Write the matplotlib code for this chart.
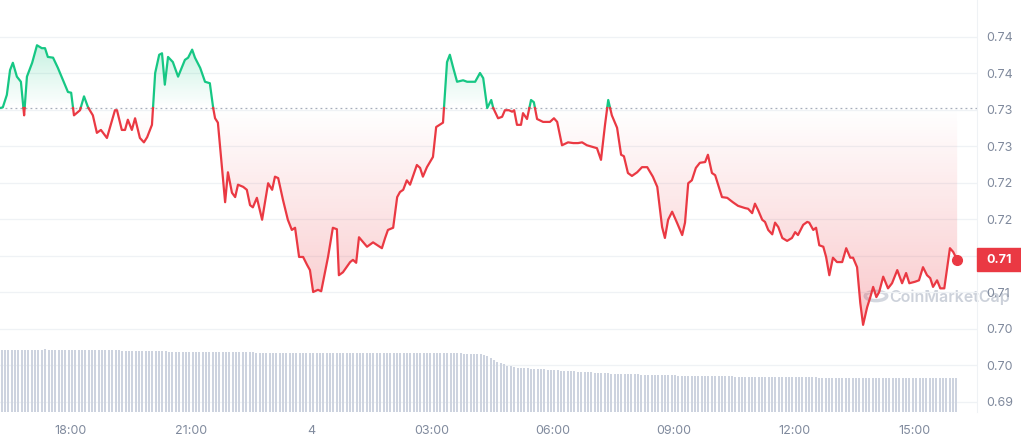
import numpy as np
import matplotlib.pyplot as plt
from matplotlib.patches import Rectangle, Circle
from matplotlib.transforms import blended_transform_factory


# hours elapsed since 16:15 and price (USD)
hours = [0.00, 0.07, 0.17, 0.25, 0.32, 0.42, 0.52, 0.60, 0.67, 0.80, 0.92, 1.04, 1.12, 1.19,
         1.32, 1.44, 1.57, 1.69, 1.77, 1.84, 1.99, 2.09, 2.19, 2.31, 2.41, 2.51, 2.66, 2.86,
         2.91, 3.03, 3.11, 3.18, 3.28, 3.36, 3.48, 3.58, 3.66, 3.78, 3.86, 3.96, 4.03, 4.10,
         4.18, 4.30, 4.43, 4.60, 4.68, 4.78, 4.85, 4.98, 5.10, 5.22, 5.30, 5.35, 5.42, 5.60,
         5.67, 5.77, 5.85, 5.92, 6.05, 6.14, 6.22, 6.29, 6.39, 6.52, 6.67, 6.77, 6.84, 6.92,
         7.04, 7.16, 7.26, 7.34, 7.44, 7.54, 7.64, 7.71, 7.79, 7.91, 7.99, 8.16, 8.28, 8.38,
         8.43, 8.53, 8.71, 8.78, 8.86, 8.93, 9.13, 9.28, 9.50, 9.58, 9.65, 9.78, 9.88, 9.95,
         10.03, 10.12, 10.20, 10.37, 10.45, 10.52, 10.62, 10.77, 10.85, 11.02, 11.12, 11.19,
         11.27, 11.37, 11.52, 11.62, 11.82, 11.94, 12.02, 12.12, 12.22, 12.27, 12.39, 12.49,
         12.56, 12.66, 12.74, 12.79, 12.86, 12.96, 13.01, 13.11, 13.21, 13.28, 13.36, 13.51,
         13.68, 13.78, 13.86, 13.98, 14.13, 14.26, 14.38, 14.48, 14.60, 14.73, 14.85, 14.95,
         15.05, 15.13, 15.22, 15.35, 15.45, 15.52, 15.62, 15.72, 15.85, 15.97, 16.10, 16.24,
         16.35, 16.47, 16.54, 16.62, 16.72, 16.84, 16.97, 17.04, 17.12, 17.21, 17.31, 17.41,
         17.54, 17.61, 17.71, 17.79, 17.96, 18.09, 18.23, 18.36, 18.53, 18.61, 18.71, 18.78,
         18.86, 18.96, 19.03, 19.11, 19.21, 19.28, 19.36, 19.46, 19.58, 19.70, 19.78, 19.85,
         19.98, 20.08, 20.13, 20.23, 20.30, 20.38, 20.48, 20.55, 20.63, 20.72, 20.82, 20.95,
         21.05, 21.15, 21.22, 21.32, 21.40, 21.47, 21.57, 21.65, 21.72, 21.80, 21.87, 21.97,
         22.09, 22.19, 22.32, 22.44, 22.54, 22.62, 22.76, 22.86, 22.96, 23.06, 23.14, 23.21,
         23.31, 23.39, 23.49, 23.63, 23.71, 23.81]

prices = [0.7302, 0.7303, 0.7320, 0.7354, 0.7364, 0.7345, 0.7338, 0.7292, 0.7345, 0.7364,
          0.7388, 0.7384, 0.7384, 0.7372, 0.7371, 0.7357, 0.7340, 0.7324, 0.7323, 0.7292,
          0.7299, 0.7318, 0.7303, 0.7292, 0.7268, 0.7272, 0.7261, 0.7299, 0.7299, 0.7272,
          0.7272, 0.7286, 0.7272, 0.7288, 0.7261, 0.7255, 0.7262, 0.7279, 0.7350, 0.7375,
          0.7377, 0.7334, 0.7372, 0.7365, 0.7345, 0.7368, 0.7371, 0.7382, 0.7371, 0.7357,
          0.7338, 0.7336, 0.7303, 0.7288, 0.7282, 0.7173, 0.7214, 0.7186, 0.7180, 0.7197,
          0.7194, 0.7190, 0.7169, 0.7166, 0.7179, 0.7149, 0.7199, 0.7190, 0.7208, 0.7206,
          0.7176, 0.7149, 0.7135, 0.7138, 0.7098, 0.7098, 0.7087, 0.7080, 0.7050, 0.7053,
          0.7051, 0.7098, 0.7138, 0.7136, 0.7073, 0.7077, 0.7091, 0.7094, 0.7090, 0.7125,
          0.7112, 0.7118, 0.7110, 0.7124, 0.7135, 0.7138, 0.7180, 0.7187, 0.7190, 0.7203,
          0.7197, 0.7224, 0.7220, 0.7208, 0.7221, 0.7235, 0.7276, 0.7282, 0.7365, 0.7375,
          0.7358, 0.7338, 0.7340, 0.7338, 0.7338, 0.7350, 0.7343, 0.7302, 0.7313, 0.7302,
          0.7288, 0.7290, 0.7299, 0.7299, 0.7297, 0.7299, 0.7279, 0.7279, 0.7295, 0.7287,
          0.7313, 0.7310, 0.7287, 0.7283, 0.7283, 0.7288, 0.7283, 0.7251, 0.7255, 0.7254,
          0.7254, 0.7255, 0.7251, 0.7249, 0.7247, 0.7231, 0.7279, 0.7313, 0.7292, 0.7275,
          0.7238, 0.7236, 0.7213, 0.7209, 0.7214, 0.7221, 0.7221, 0.7208, 0.7194, 0.7139,
          0.7124, 0.7149, 0.7160, 0.7145, 0.7128, 0.7145, 0.7199, 0.7203, 0.7220, 0.7227,
          0.7228, 0.7238, 0.7213, 0.7210, 0.7180, 0.7179, 0.7173, 0.7168, 0.7165, 0.7164,
          0.7158, 0.7171, 0.7162, 0.7149, 0.7146, 0.7135, 0.7129, 0.7145, 0.7139, 0.7124,
          0.7120, 0.7124, 0.7132, 0.7128, 0.7142, 0.7146, 0.7145, 0.7135, 0.7138, 0.7114,
          0.7112, 0.7098, 0.7073, 0.7097, 0.7091, 0.7091, 0.7110, 0.7097, 0.7097, 0.7084,
          0.7035, 0.7005, 0.7029, 0.7043, 0.7057, 0.7043, 0.7050, 0.7071, 0.7055, 0.7062,
          0.7080, 0.7062, 0.7076, 0.7062, 0.7064, 0.7066, 0.7084, 0.7073, 0.7069, 0.7057,
          0.7066, 0.7055, 0.7055, 0.7110, 0.7105, 0.7094]

# 5-minute volume bars (arbitrary units), one row per hour
volume = [
    31.0, 31.1, 31.0, 31.2, 31.2, 31.1, 31.0, 31.0, 31.1, 31.2, 31.2, 31.1,
    31.2, 31.3, 31.2, 31.2, 31.1, 31.1, 31.0, 31.0, 31.1, 31.1, 31.0, 31.0,
    30.9, 30.9, 31.0, 31.0, 31.1, 31.0, 31.0, 30.9, 30.9, 30.8, 30.8, 30.8,
    30.7, 30.7, 30.6, 30.6, 30.6, 30.5, 30.5, 30.5, 30.4, 30.4, 30.4, 30.3,
    30.3, 30.3, 30.2, 30.2, 30.2, 30.2, 30.1, 30.1, 30.1, 30.1, 30.0, 30.0,
    30.0, 30.0, 30.0, 29.9, 29.9, 29.9, 29.9, 29.9, 29.9, 29.8, 29.8, 29.8,
    29.8, 29.8, 29.8, 29.8, 29.7, 29.7, 29.7, 29.7, 29.7, 29.7, 29.7, 29.7,
    29.7, 29.7, 29.7, 29.6, 29.6, 29.6, 29.6, 29.6, 29.6, 29.6, 29.6, 29.6,
    29.6, 29.6, 29.6, 29.6, 29.6, 29.6, 29.6, 29.6, 29.5, 29.5, 29.5, 29.5,
    29.5, 29.5, 29.5, 29.5, 29.5, 29.5, 29.5, 29.5, 29.5, 29.5, 29.5, 29.5,
    29.5, 29.5, 29.5, 29.5, 29.5, 29.5, 29.5, 29.5, 29.5, 29.5, 29.4, 29.4,
    29.4, 29.4, 29.4, 29.3, 29.3, 29.3, 29.2, 29.2, 29.1, 29.0, 28.9, 28.8,
    28.6, 28.0, 27.2, 26.2, 25.2, 24.4, 23.8, 23.2, 22.8, 22.4, 22.2, 22.0,
    21.9, 21.8, 21.7, 21.6, 21.5, 21.4, 21.3, 21.2, 21.0, 20.9, 20.8, 20.7,
    20.6, 20.5, 20.4, 20.3, 20.2, 20.1, 20.0, 19.9, 19.8, 19.7, 19.6, 19.5,
    19.4, 19.3, 19.2, 19.2, 19.1, 19.0, 19.0, 18.9, 18.9, 18.8, 18.8, 18.7,
    18.7, 18.6, 18.6, 18.5, 18.5, 18.4, 18.4, 18.3, 18.3, 18.3, 18.2, 18.2,
    18.2, 18.1, 18.1, 18.1, 18.0, 18.0, 18.0, 17.9, 17.9, 17.9, 17.9, 17.8,
    17.8, 17.8, 17.8, 17.7, 17.7, 17.7, 17.7, 17.6, 17.6, 17.6, 17.6, 17.6,
    17.5, 17.5, 17.5, 17.5, 17.5, 17.4, 17.4, 17.4, 17.4, 17.4, 17.3, 17.3,
    17.3, 17.3, 17.3, 17.3, 17.2, 17.2, 17.2, 17.2, 17.2, 17.2, 17.2, 17.1,
    17.1, 17.1, 17.1, 17.1, 17.1, 17.1, 17.1, 17.0, 17.0, 17.0, 17.0, 17.0,
    17.0, 17.0, 17.0, 17.0, 17.0, 17.0, 17.0, 17.0, 17.0, 17.0, 17.0, 17.0,
    17.0, 17.0, 17.0, 17.0, 17.0, 17.0, 17.0, 17.0, 17.0, 17.0,
]

xtick_pos = [1.75, 4.75, 7.75, 10.75, 13.75, 16.75, 19.75, 22.75]
xtick_labels = ['18:00', '21:00', '4', '03:00', '06:00', '09:00', '12:00', '15:00']
ytick_pos = [0.690, 0.695, 0.700, 0.705, 0.710, 0.715, 0.720, 0.725, 0.730, 0.735, 0.740]
ytick_labels = ['0.69', '0.70', '0.70', '0.71', '0.71', '0.72', '0.72', '0.73', '0.73',
                '0.74', '0.74']

GREEN = '#16c784'
RED = '#ea3943'
GRAY = '#808a9d'
GRID = '#eff2f5'

plt.rcParams['font.family'] = ['Inter', 'DejaVu Sans']


def split_at_base(t, p, base):
    # add the points where the line crosses the baseline so both colours meet
    xs, ys = [t[0]], [p[0]]
    for i in range(1, len(t)):
        a, b = p[i-1] - base, p[i] - base
        if a * b < 0:
            f = a / (a - b)
            xs.append(t[i-1] + f * (t[i] - t[i-1]))
            ys.append(base)
        xs.append(t[i])
        ys.append(p[i])
    return np.array(xs), np.array(ys)


def gradient_fill(ax, x, y1, y2, rgb, y_lo, y_hi, a_lo, a_hi):
    poly = ax.fill_between(x, y1, y2, color='none', lw=0)
    grad = np.zeros((256, 1, 4))
    grad[..., :3] = rgb
    grad[:, 0, 3] = np.linspace(a_lo, a_hi, 256)
    im = ax.imshow(grad, aspect='auto', origin='lower', zorder=1,
                   extent=[x.min(), x.max(), y_lo, y_hi])
    im.set_clip_path(poly.get_paths()[0], transform=ax.transData)


fig = plt.figure(figsize=(10.21, 4.40), dpi=100)
ax = fig.add_axes([0, 1 - 412/440, 977/1021, 412/440])
ax2 = ax.twinx()
ax.patch.set_alpha(0)

t = np.array(hours)
p = np.array(prices)
base = p[0]
xs, ys = split_at_base(t, p, base)

gradient_fill(ax, xs, np.maximum(ys, base), base, (0.086, 0.78, 0.52),
              base, ys.max(), 0.0, 0.24)
gradient_fill(ax, xs, np.minimum(ys, base), base, (0.92, 0.22, 0.26),
              ys.min(), base, 0.28, 0.0)

ax.plot(xs, np.where(ys >= base, ys, np.nan), color=GREEN, lw=1.6, zorder=3)
ax.plot(xs, np.where(ys <= base, ys, np.nan), color=RED, lw=1.6, zorder=3)
ax.plot(t[-1], p[-1], 'o', color=RED, ms=7, zorder=4)
ax.axhline(base, color='#a6adba', lw=0.9, ls=(0, (1.5, 2.5)), zorder=2)

for yt in ytick_pos:
    ax.axhline(yt, color=GRID, lw=0.9, zorder=0)

ax.set_xlim(0, 977/40.2)
ax.set_ylim(0.745 - 412/7300, 0.745)
ax.set_xticks(xtick_pos, xtick_labels)
ax.set_yticks(ytick_pos, ytick_labels)
ax.yaxis.tick_right()
ax.tick_params(axis='both', length=0, colors=GRAY, labelsize=9)
ax.tick_params(axis='y', pad=7)
ax.tick_params(axis='x', pad=9)
for s in ax.spines.values():
    s.set_visible(False)
ax.spines['right'].set_visible(True)
ax.spines['right'].set_color(GRID)

vt = np.arange(len(volume)) * 5 / 60 + 0.04
ax2.bar(vt, volume, width=0.05, color='#cdd3df', lw=0)
ax2.set_ylim(0, 206)
ax2.set_yticks([])
for s in ax2.spines.values():
    s.set_visible(False)

# current price tag
tr = blended_transform_factory(ax.transAxes, ax.transData)
h = 23 / 7300
ax.add_patch(Rectangle((1.0, p[-1] - h/2), 44/977, h, transform=tr, color=RED,
                       clip_on=False, zorder=5))
ax.text(1.0 + 22/977, p[-1], f'{p[-1]:.2f}', transform=tr, color='white',
        fontsize=9, fontweight='bold', ha='center', va='center', zorder=6,
        clip_on=False)

# watermark
fig.text(0.871, 1 - 297/440, 'CoinMarketCap', color='#ccd1da', fontsize=11.5,
         fontweight='semibold', va='center', ha='left', zorder=-1)
fig.patches.append(Circle((876/1021, 1 - 296/440), 0.0105, transform=fig.transFigure,
                          fill=False, ec='#d3d7df', lw=2.5, zorder=-1))

fig.savefig('out.png', dpi=100, facecolor='white')
